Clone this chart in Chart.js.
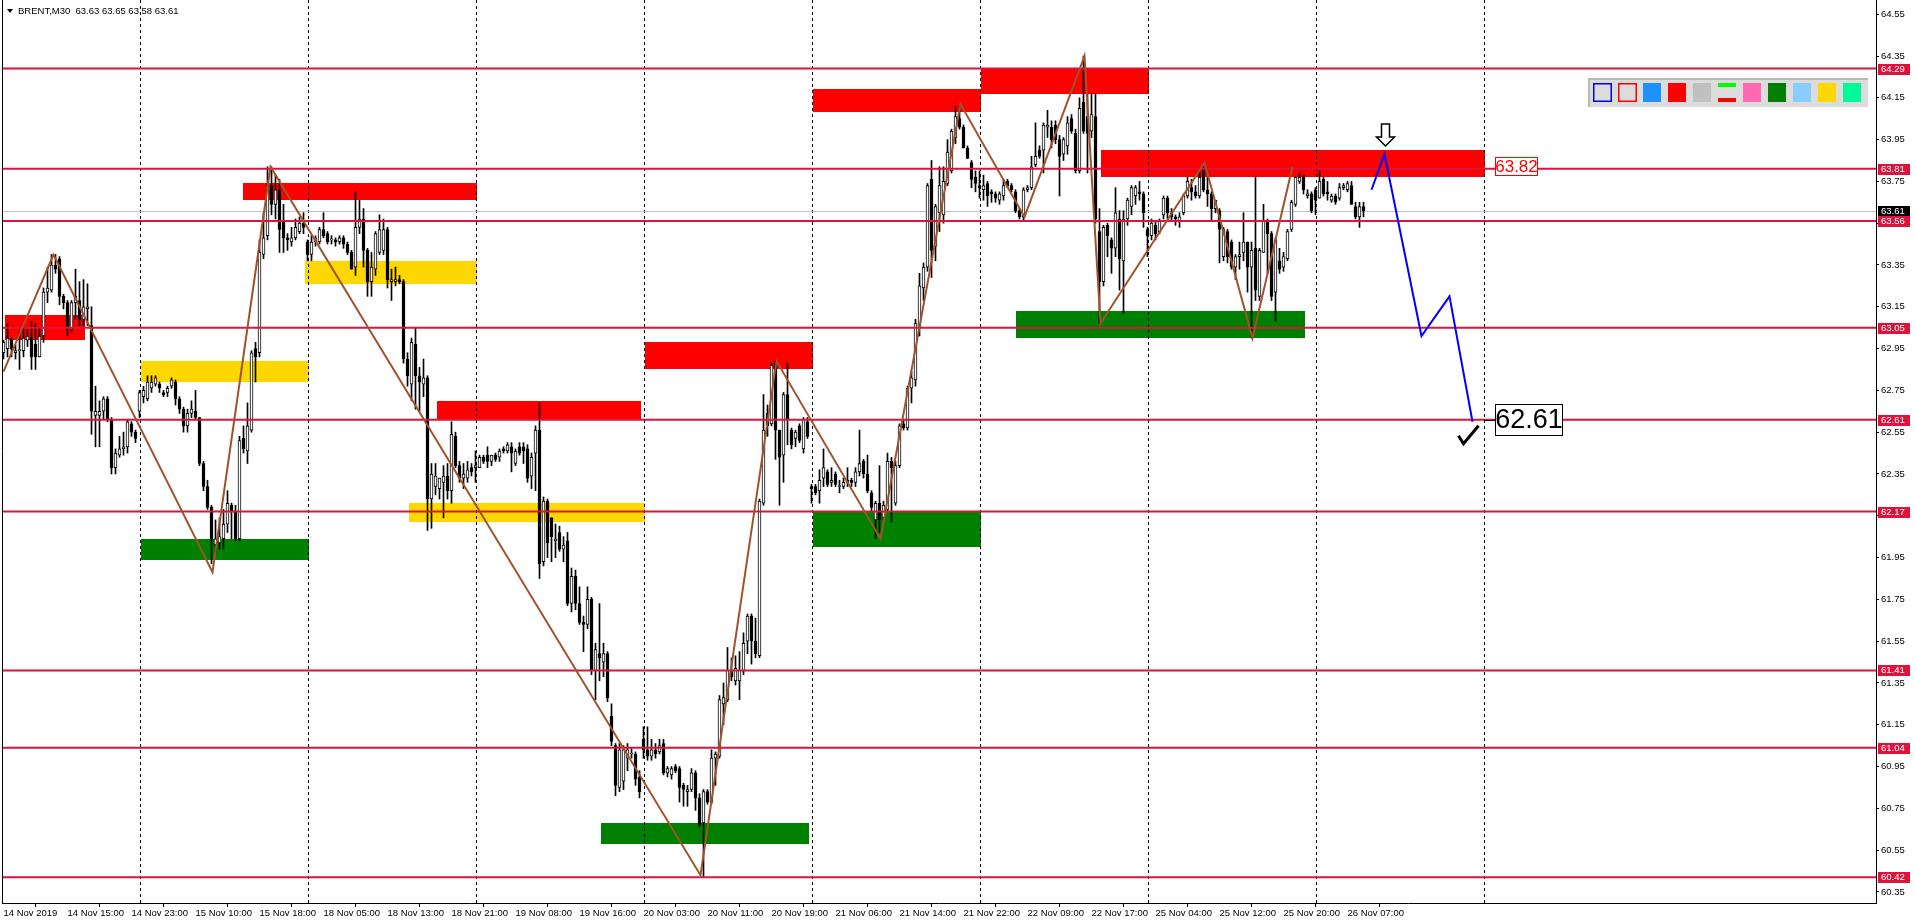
<!DOCTYPE html>
<html>
<head>
<meta charset="utf-8">
<script src="https://cdn.jsdelivr.net/npm/chart.js@4.4.0/dist/chart.umd.min.js"></script>
<style>
html,body{margin:0;padding:0;background:#fff;overflow:hidden}
#wrap{width:1916px;height:923px}
</style>
</head>
<body>
<div id="wrap"><canvas id="brent"></canvas></div>
<script>
// BRENT M30, one value per bar
const opens = [
62.93,62.95,62.99,62.93,62.94,62.94,62.99,63.00,62.97,62.91,
63.01,63.22,63.23,63.35,63.38,63.20,63.17,63.04,63.17,63.18,
63.09,63.14,63.06,62.63,62.63,62.65,62.71,62.61,62.38,62.44,
62.47,62.48,62.59,62.55,62.65,62.72,62.71,62.76,62.78,62.78,
62.74,62.74,62.77,62.79,62.71,62.66,62.58,62.64,62.65,62.62,
62.40,62.29,62.19,62.01,62.02,62.04,62.11,62.20,62.17,62.04,
62.52,62.46,62.56,62.95,62.93,63.40,63.49,63.73,63.64,63.71,
63.56,63.48,63.46,63.48,63.51,63.55,63.46,63.40,63.46,63.46,
63.52,63.50,63.47,63.47,63.46,63.48,63.45,63.41,63.34,63.53,
63.57,63.42,63.27,63.33,63.41,63.42,63.52,63.27,63.27,63.28,
63.27,62.90,62.78,62.97,62.82,62.78,62.81,62.23,62.29,62.28,
62.31,62.34,62.27,62.53,62.39,62.33,62.33,62.38,62.38,62.38,
62.43,62.44,62.41,62.44,62.43,62.47,62.46,62.48,62.40,62.48,
62.48,62.47,62.34,62.45,62.56,61.93,62.22,62.14,62.03,62.07,
61.99,62.03,61.73,61.86,61.73,61.64,61.63,61.75,61.41,61.49,
61.45,61.49,61.19,61.05,60.85,60.88,60.99,61.01,61.01,60.90,
61.08,61.03,61.00,61.03,61.02,61.06,60.92,60.91,60.95,60.94,
60.86,60.83,60.84,60.92,60.80,60.68,60.83,60.78,60.99,61.00,
61.25,61.27,61.41,61.36,61.36,61.41,61.55,61.67,61.55,61.48,
62.21,62.64,62.59,62.88,62.56,62.44,62.73,62.56,62.52,62.58,
62.47,62.60,62.29,62.29,62.27,62.33,62.36,62.31,62.35,62.29,
62.29,62.31,62.32,62.31,62.36,62.41,62.35,62.26,62.13,62.21,
62.14,62.18,62.41,62.21,62.39,62.59,62.57,62.76,62.80,63.05,
63.24,63.34,63.76,63.44,63.60,63.59,63.74,63.80,63.96,64.05,
64.01,63.91,63.84,63.77,63.73,63.71,63.74,63.70,63.69,63.66,
63.68,63.75,63.73,63.70,63.61,63.58,63.71,63.72,63.83,63.90,
63.90,64.01,64.01,64.02,63.95,63.88,63.92,64.05,63.98,63.80,
64.13,64.06,63.99,64.06,63.51,63.27,63.54,63.47,63.43,63.57,
63.37,63.57,63.63,63.68,63.70,63.69,63.52,63.49,63.54,63.51,
63.59,63.67,63.60,63.58,63.56,63.60,63.68,63.72,63.70,63.68,
63.80,63.71,63.69,63.62,63.61,63.39,63.51,63.46,63.34,63.39,
63.41,63.46,63.34,63.43,63.20,63.41,63.56,63.50,63.22,63.37,
63.34,63.38,63.52,63.64,63.75,63.77,63.68,63.69,63.71,63.67,
63.76,63.70,63.66,63.68,63.67,63.72,63.71,63.73,63.63,63.58,63.63];
const highs = [
62.99,63.07,63.00,62.97,63.03,63.05,63.04,63.08,63.07,63.05,
63.24,63.34,63.40,63.40,63.39,63.21,63.18,63.18,63.33,63.27,
63.28,63.26,63.15,62.77,62.70,62.72,62.72,62.62,62.47,62.53,
62.55,62.61,62.60,62.56,62.75,62.77,62.82,62.82,62.82,62.79,
62.75,62.77,62.81,62.80,62.72,62.67,62.66,62.70,62.75,62.62,
62.41,62.32,62.20,62.13,62.14,62.18,62.27,62.21,62.20,62.53,
62.58,62.69,62.94,62.98,63.47,63.60,63.82,63.82,63.78,63.76,
63.64,63.50,63.53,63.57,63.58,63.60,63.47,63.49,63.49,63.53,
63.60,63.51,63.49,63.48,63.49,63.49,63.46,63.42,63.70,63.66,
63.62,63.43,63.41,63.51,63.59,63.57,63.53,63.33,63.34,63.30,
63.28,62.93,63.00,63.05,62.86,62.90,62.82,62.40,62.40,62.33,
62.39,62.40,62.60,62.55,62.41,62.40,62.41,62.40,62.46,62.44,
62.44,62.48,62.44,62.45,62.47,62.48,62.50,62.50,62.47,62.50,
62.50,62.49,62.45,62.58,62.69,62.24,62.23,62.14,62.11,62.10,
62.05,62.07,61.90,61.89,61.81,61.67,61.81,61.76,61.54,61.73,
61.54,61.50,61.25,61.06,61.06,61.05,61.06,61.04,61.02,60.93,
61.14,61.14,61.08,61.06,61.08,61.08,60.95,60.95,60.96,60.95,
60.87,60.86,60.94,60.93,60.82,60.84,60.84,61.03,61.02,61.29,
61.35,61.52,61.47,61.48,61.50,61.59,61.68,61.68,61.66,62.23,
62.73,62.68,62.88,62.89,62.56,62.74,62.88,62.57,62.56,62.59,
62.62,62.62,62.30,62.30,62.37,62.47,62.37,62.38,62.36,62.32,
62.33,62.38,62.33,62.38,62.56,62.42,62.44,62.27,62.22,62.39,
62.22,62.45,62.43,62.41,62.59,62.61,62.77,62.84,63.09,63.31,
63.36,63.74,63.85,63.64,63.82,63.82,63.95,64.00,64.11,64.11,
64.02,63.92,63.85,63.80,63.80,63.78,63.75,63.71,63.70,63.70,
63.76,63.76,63.74,63.71,63.62,63.72,63.73,63.87,64.03,63.92,
64.03,64.09,64.04,64.04,63.97,63.96,64.06,64.07,64.00,64.15,
64.35,64.17,64.17,64.17,63.62,63.54,63.55,63.48,63.72,63.61,
63.61,63.67,63.73,63.73,63.75,63.70,63.53,63.57,63.56,63.57,
63.68,63.68,63.62,63.59,63.60,63.69,63.77,63.76,63.73,63.80,
63.82,63.77,63.70,63.66,63.62,63.53,63.52,63.47,63.40,63.46,
63.60,63.46,63.46,63.77,63.43,63.64,63.57,63.51,63.48,63.43,
63.41,63.52,63.66,63.77,63.79,63.78,63.71,63.70,63.72,63.80,
63.77,63.75,63.69,63.69,63.74,63.74,63.75,63.75,63.65,63.65,63.65];
const lows = [
62.90,62.91,62.91,62.90,62.85,62.91,62.96,62.85,62.85,62.91,
62.98,63.17,63.22,63.31,63.16,63.14,63.01,63.03,63.09,63.06,
63.06,63.06,62.54,62.48,62.48,62.61,62.60,62.35,62.35,62.43,
62.44,62.45,62.53,62.50,62.62,62.69,62.70,62.74,62.77,62.74,
62.72,62.72,62.76,62.68,62.64,62.55,62.55,62.62,62.61,62.39,
62.27,62.18,61.92,61.97,61.99,61.99,62.07,62.04,62.03,62.03,
62.45,62.40,62.55,62.79,62.91,63.38,63.47,63.59,63.57,63.41,
63.41,63.42,63.44,63.47,63.50,63.50,63.37,63.37,63.44,63.45,
63.48,63.45,63.45,63.44,63.45,63.43,63.40,63.33,63.30,63.50,
63.34,63.20,63.20,63.30,63.40,63.40,63.24,63.18,63.25,63.26,
62.88,62.77,62.70,62.66,62.65,62.72,62.08,62.09,62.25,62.23,
62.14,62.23,62.21,62.38,62.31,62.28,62.31,62.34,62.31,62.38,
62.40,62.38,62.39,62.41,62.41,62.45,62.45,62.36,62.39,62.44,
62.40,62.31,62.28,62.27,61.85,61.91,61.95,61.93,61.95,61.98,
61.93,61.72,61.69,61.70,61.63,61.50,61.61,61.39,61.27,61.36,
61.38,61.26,61.05,60.81,60.83,60.84,60.93,60.99,60.86,60.80,
60.99,60.98,60.98,60.99,61.01,60.91,60.90,60.89,60.92,60.78,
60.76,60.76,60.83,60.74,60.66,60.42,60.77,60.77,60.86,60.99,
61.15,61.26,61.36,61.34,61.27,61.39,61.49,61.44,61.47,61.47,
62.20,62.53,62.58,62.42,62.20,62.31,62.49,62.47,62.48,62.50,
62.45,62.52,62.21,62.25,62.21,62.29,62.29,62.29,62.29,62.26,
62.28,62.29,62.29,62.29,62.34,62.33,62.26,62.17,62.04,62.07,
62.13,62.17,62.12,62.20,62.38,62.56,62.56,62.69,62.77,63.01,
63.18,63.32,63.29,63.37,63.51,63.55,63.73,63.79,63.93,64.00,
63.91,63.86,63.72,63.70,63.67,63.66,63.63,63.65,63.65,63.64,
63.66,63.72,63.70,63.60,63.57,63.56,63.70,63.71,63.82,63.86,
63.79,63.96,63.91,63.93,63.68,63.85,63.88,63.98,63.79,63.79,
63.98,63.79,63.96,63.55,63.07,63.25,63.39,63.31,63.39,63.23,
63.12,63.54,63.59,63.64,63.66,63.53,63.39,63.47,63.47,63.50,
63.57,63.57,63.56,63.54,63.53,63.59,63.67,63.66,63.67,63.67,
63.70,63.63,63.56,63.60,63.36,63.37,63.36,63.33,63.28,63.33,
63.37,63.22,63.00,63.18,63.18,63.41,63.31,63.18,63.08,63.31,
63.32,63.37,63.51,63.63,63.74,63.69,63.67,63.60,63.59,63.67,
63.68,63.66,63.65,63.64,63.66,63.71,63.70,63.64,63.57,63.53,63.58];
const closes = [
62.98,63.00,62.95,62.94,62.94,63.00,63.01,62.91,62.91,63.01,
63.22,63.24,63.35,63.33,63.20,63.17,63.06,63.17,63.20,63.09,
63.15,63.15,62.65,62.65,62.65,62.71,62.61,62.38,62.45,62.47,
62.48,62.60,62.55,62.52,62.74,62.75,62.79,62.79,62.81,62.76,
62.73,62.76,62.80,62.71,62.66,62.58,62.64,62.66,62.62,62.40,
62.29,62.19,62.04,62.04,62.05,62.11,62.21,62.17,62.04,62.51,
62.47,62.58,62.93,62.91,63.41,63.48,63.73,63.64,63.71,63.52,
63.48,63.47,63.48,63.53,63.55,63.53,63.40,63.46,63.48,63.52,
63.49,63.46,63.47,63.46,63.48,63.45,63.41,63.33,63.53,63.57,
63.42,63.27,63.34,63.50,63.52,63.52,63.28,63.28,63.28,63.27,
62.90,62.82,62.98,62.82,62.79,62.81,62.23,62.35,62.34,62.33,
62.34,62.27,62.54,62.39,62.33,62.35,62.37,62.36,62.39,62.43,
62.41,62.41,62.44,62.42,62.46,62.46,62.49,62.45,62.46,62.45,
62.46,62.33,62.43,62.56,61.92,62.22,62.02,62.05,62.04,61.99,
62.01,61.73,61.86,61.73,61.64,61.63,61.75,61.41,61.51,61.47,
61.49,61.28,61.07,60.86,61.03,61.03,61.03,61.01,60.89,60.83,
61.03,61.00,61.03,61.01,61.05,60.92,60.94,60.94,60.93,60.85,
60.84,60.84,60.92,60.80,60.67,60.83,60.78,60.99,61.01,61.27,
61.28,61.41,61.38,61.42,61.41,61.54,61.67,61.55,61.49,62.22,
62.56,62.58,62.87,62.56,62.43,62.73,62.61,62.49,62.55,62.51,
62.61,62.53,62.28,62.26,62.32,62.38,62.30,62.32,62.30,62.29,
62.31,62.32,62.31,62.36,62.40,62.35,62.27,62.19,62.21,62.13,
62.20,62.41,62.38,62.39,62.58,62.57,62.76,62.81,63.07,63.25,
63.34,63.73,63.42,63.63,63.73,63.75,63.89,63.99,64.06,64.01,
63.91,63.86,63.76,63.74,63.72,63.73,63.68,63.69,63.67,63.69,
63.73,63.73,63.71,63.61,63.58,63.71,63.72,63.82,63.87,63.87,
64.02,64.02,63.95,63.95,63.87,63.95,64.03,63.99,63.80,64.10,
63.99,63.98,64.07,63.57,63.27,63.53,63.49,63.43,63.60,63.38,
63.57,63.66,63.72,63.72,63.69,63.60,63.49,63.55,63.50,63.56,
63.67,63.60,63.58,63.57,63.58,63.68,63.75,63.70,63.68,63.77,
63.71,63.69,63.62,63.66,63.52,63.52,63.39,63.34,63.39,63.40,
63.46,63.34,63.42,63.23,63.42,63.56,63.50,63.20,63.47,63.33,
63.39,63.51,63.65,63.77,63.77,63.71,63.69,63.61,63.66,63.75,
63.69,63.69,63.68,63.65,63.72,63.73,63.74,63.64,63.58,63.63,63.61];

const timeLabels = ['14 Nov 2019','14 Nov 15:00','14 Nov 23:00','15 Nov 10:00','15 Nov 18:00','18 Nov 05:00',
  '18 Nov 13:00','18 Nov 21:00','19 Nov 08:00','19 Nov 16:00','20 Nov 03:00','20 Nov 11:00','20 Nov 19:00',
  '21 Nov 06:00','21 Nov 14:00','21 Nov 22:00','22 Nov 09:00','22 Nov 17:00','25 Nov 04:00','25 Nov 12:00',
  '25 Nov 20:00','26 Nov 07:00'];
const labelStep = 16;
const gridBars = [34, 76, 118, 160, 202, 244, 286, 328, 370];
const priceTicks = [64.55,64.35,64.15,63.95,63.75,63.55,63.35,63.15,62.95,62.75,62.55,62.35,62.15,61.95,61.75,61.55,61.35,61.15,60.95,60.75,60.55,60.35];
const levelPrices = [64.29, 63.81, 63.56, 63.05, 62.61, 62.17, 61.41, 61.04, 60.42];
const bidPrice = 63.61;

// zones: bar range and price range
const zoneFrom = [0.25, 34.25, 34.25, 59.75, 75.25, 101.25, 108.25, 160.25, 149.25, 202.25, 202.25, 244.25, 274.25, 253.25];
const zoneTo   = [20.25, 76.25, 76.25, 118.25, 118.25, 160.25, 159.25, 202.25, 201.25, 244.25, 244.25, 286.25, 370.25, 325.25];
const zoneHigh = [63.11, 62.89, 62.04, 63.74, 63.37, 62.21, 62.70, 62.98, 60.68, 64.19, 62.17, 64.29, 63.90, 63.13];
const zoneLow  = [62.99, 62.79, 61.94, 63.66, 63.26, 62.12, 62.61, 62.85, 60.58, 64.08, 62.00, 64.17, 63.77, 63.00];
const zoneKind = ['sell','mid','buy','sell','mid','mid','sell','sell','buy','sell','buy','sell','sell','buy'];

const zigzagBars   = [0, 12.5, 52.25, 66.75, 174.25, 193.25, 219.25, 239.25, 255.25, 270.25, 274.25, 300.25, 312.25, 322.25];
const zigzagPrices = [62.84, 63.40, 61.88, 63.82, 60.43, 62.89, 62.04, 64.12, 63.58, 64.35, 63.07, 63.84, 63.00, 63.82];
const projBars   = [342, 345.25, 354.5, 361.5, 367.25];
const projPrices = [63.71, 63.88, 63.01, 63.20, 62.60];
const entryPrice = 63.82;
const targetPrice = 62.61;

const X_MIN = -0.375, X_MAX = 468.125;
const Y_MIN = 60.297, Y_MAX = 64.618;
const smallFont = '9.5px "Liberation Sans", Arial, sans-serif';
const zoneColors = {sell: '#FF0000', mid: '#FFD700', buy: '#008000'};

const idx = closes.map((c, i) => i);

const overlay = {
  id: 'overlay',
  beforeDatasetsDraw(chart) {
    const {ctx, chartArea: a, scales: {x, y}} = chart;
    ctx.save();
    ctx.beginPath();
    ctx.rect(a.left, a.top, a.right - a.left, a.bottom - a.top);
    ctx.clip();
    zoneFrom.forEach((f, k) => {
      const x1 = Math.round(x.getPixelForValue(f)), x2 = Math.round(x.getPixelForValue(zoneTo[k]));
      const y1 = Math.round(y.getPixelForValue(zoneHigh[k])), y2 = Math.round(y.getPixelForValue(zoneLow[k]));
      ctx.fillStyle = zoneColors[zoneKind[k]];
      ctx.fillRect(x1, y1, x2 - x1, y2 - y1);
    });
    ctx.strokeStyle = '#000';
    ctx.lineWidth = 1;
    ctx.setLineDash([3, 3]);
    gridBars.forEach(b => {
      const px = Math.round(x.getPixelForValue(b)) + 0.5;
      ctx.beginPath(); ctx.moveTo(px, a.top); ctx.lineTo(px, a.bottom); ctx.stroke();
    });
    ctx.setLineDash([]);
    const by = Math.round(y.getPixelForValue(bidPrice)) + 0.5;
    ctx.strokeStyle = '#C0C0C0';
    ctx.beginPath(); ctx.moveTo(a.left, by); ctx.lineTo(a.right, by); ctx.stroke();
    ctx.restore();
  },
  afterDraw(chart) {
    const {ctx, chartArea: a, scales: {x, y}} = chart;
    ctx.save();
    // left frame
    ctx.strokeStyle = '#000';
    ctx.beginPath(); ctx.moveTo(a.left + 0.5, 0); ctx.lineTo(a.left + 0.5, a.bottom); ctx.stroke();

    // price tags on the right axis
    const tag = (p, fill) => {
      const py = Math.round(y.getPixelForValue(p));
      ctx.fillStyle = fill;
      ctx.fillRect(a.right + 2, py - 5, 32, 11);
      ctx.fillStyle = '#fff';
      ctx.font = smallFont;
      ctx.textBaseline = 'middle';
      ctx.textAlign = 'left';
      ctx.fillText(p.toFixed(2), a.right + 5, py + 0.5);
    };
    tag(bidPrice, '#000');
    levelPrices.forEach(p => tag(p, '#DC143C'));

    // down arrow above the projected top
    const last = projBars.length - 1;
    const tx = Math.round(x.getPixelForValue(projBars[1])) + 0.5;
    const ty = Math.round(y.getPixelForValue(projPrices[1]));
    ctx.beginPath();
    ctx.moveTo(tx - 4, ty - 30); ctx.lineTo(tx + 4, ty - 30); ctx.lineTo(tx + 4, ty - 17);
    ctx.lineTo(tx + 9, ty - 17); ctx.lineTo(tx, ty - 8); ctx.lineTo(tx - 9, ty - 17);
    ctx.lineTo(tx - 4, ty - 17); ctx.closePath();
    ctx.fillStyle = '#fff'; ctx.fill();
    ctx.strokeStyle = '#000'; ctx.lineWidth = 1.5; ctx.stroke();

    // check mark under the target
    const ex = x.getPixelForValue(projBars[last]);
    const ey = y.getPixelForValue(projPrices[last]);
    ctx.beginPath();
    ctx.moveTo(ex - 14, ey + 14); ctx.lineTo(ex - 9, ey + 22); ctx.lineTo(ex + 6, ey + 4);
    ctx.strokeStyle = '#000'; ctx.lineWidth = 3; ctx.lineJoin = 'miter'; ctx.stroke();

    // target box
    const bx = Math.round(x.getPixelForValue(gridBars[gridBars.length - 1])) + 11;
    const gy = Math.round(y.getPixelForValue(targetPrice));
    ctx.lineWidth = 1;
    ctx.beginPath(); ctx.moveTo(bx - 11, gy + 0.5); ctx.lineTo(bx, gy + 0.5); ctx.stroke();
    ctx.fillStyle = '#fff';
    ctx.fillRect(bx, gy - 16, 68, 32);
    ctx.strokeRect(bx + 0.5, gy - 15.5, 67, 31);
    ctx.fillStyle = '#000';
    ctx.font = '27px "Liberation Sans", Arial, sans-serif';
    ctx.textAlign = 'center'; ctx.textBaseline = 'middle';
    ctx.fillText(targetPrice.toFixed(2), bx + 34, gy + 1);

    // entry box
    const ny = Math.round(y.getPixelForValue(entryPrice));
    ctx.fillStyle = '#fff';
    ctx.fillRect(bx, ny - 10, 43, 19);
    ctx.strokeStyle = '#FF0000';
    ctx.strokeRect(bx + 0.5, ny - 9.5, 42, 18);
    ctx.fillStyle = '#FF0000';
    ctx.font = '17px "Liberation Sans", Arial, sans-serif';
    ctx.fillText(entryPrice.toFixed(2), bx + 21.5, ny + 0.5);

    // object palette
    const px0 = a.right - 288, py0 = 78;
    ctx.fillStyle = '#DCDCDC'; ctx.fillRect(px0, py0, 280, 29);
    ctx.fillStyle = '#B8B8B8'; ctx.fillRect(px0, py0, 280, 2); ctx.fillRect(px0, py0, 2, 29);
    const cells = ['#0000FF', '#FF0000', '#1E90FF', '#FF0000', '#C0C0C0', 'lines', '#FF69B4', '#008000', '#87CEFA', '#FFD700', '#00FA9A'];
    cells.forEach((c, k) => {
      const cx = px0 + 5 + k * 25, cy = py0 + 5;
      if (k < 2) {
        ctx.strokeStyle = c; ctx.lineWidth = 1.5;
        ctx.strokeRect(cx + 0.75, cy + 0.75, 17.5, 17.5);
      } else if (c === 'lines') {
        ctx.fillStyle = '#00FF00'; ctx.fillRect(cx, cy, 18, 4);
        ctx.fillStyle = '#FF0000'; ctx.fillRect(cx, cy + 15, 18, 4);
      } else {
        ctx.fillStyle = c; ctx.fillRect(cx, cy, 18, 19);
      }
    });

    // title
    ctx.fillStyle = '#000';
    ctx.beginPath(); ctx.moveTo(7, 9); ctx.lineTo(13, 9); ctx.lineTo(10, 13); ctx.closePath(); ctx.fill();
    const n = closes.length - 1;
    ctx.font = smallFont; ctx.textAlign = 'left'; ctx.textBaseline = 'middle';
    ctx.fillText('BRENT,M30  ' + [opens[n], highs[n], lows[n], closes[n]].map(v => v.toFixed(2)).join(' '), 18, 11);
    ctx.restore();
  }
};

new Chart('brent', {
  type: 'bar',
  data: {
    datasets: [
      {
        type: 'line', label: 'projection', order: 0,
        data: projBars.map((b, k) => ({x: b, y: projPrices[k]})),
        borderColor: '#0000FF', borderWidth: 2, pointRadius: 0, tension: 0
      },
      {
        type: 'line', label: 'zigzag', order: 1,
        data: zigzagBars.map((b, k) => ({x: b, y: zigzagPrices[k]})),
        borderColor: '#A0522D', borderWidth: 2, pointRadius: 0, tension: 0
      },
      ...levelPrices.map(p => ({
        type: 'line', label: 'level ' + p, order: 2,
        data: [{x: X_MIN, y: p}, {x: X_MAX, y: p}],
        borderColor: '#DC143C', borderWidth: 2, pointRadius: 0
      })),
      {
        label: 'body', order: 4, grouped: false,
        data: idx.map(i => ({x: i, y: [Math.min(opens[i], closes[i]), Math.max(opens[i], closes[i])]})),
        backgroundColor: idx.map(i => closes[i] >= opens[i] ? '#FFFFFF' : '#000000'),
        borderColor: '#000', borderWidth: 1, borderSkipped: false,
        barThickness: 3, minBarLength: 1
      },
      {
        label: 'wick', order: 5, grouped: false,
        data: idx.map(i => ({x: i, y: [lows[i], highs[i]]})),
        backgroundColor: '#000', barThickness: 1, minBarLength: 1
      }
    ]
  },
  options: {
    responsive: true,
    maintainAspectRatio: false,
    animation: false,
    events: [],
    layout: {padding: {left: 2, top: 0, right: 0, bottom: 0}},
    plugins: {legend: {display: false}, tooltip: {enabled: false}},
    scales: {
      x: {
        type: 'linear', min: X_MIN, max: X_MAX, offset: false,
        afterBuildTicks: s => { s.ticks = timeLabels.map((t, k) => ({value: k * labelStep})); },
        afterFit: s => { s.height = 20; s.paddingLeft = 0; s.paddingRight = 0; },
        ticks: {
          autoSkip: false, maxRotation: 0, align: 'start', padding: 1, color: '#000',
          font: {family: '"Liberation Sans", Arial, sans-serif', size: 9.5},
          callback: v => timeLabels[Math.round(v / labelStep)]
        },
        grid: {drawOnChartArea: false, tickLength: 4, color: '#000'},
        border: {color: '#000', width: 1}
      },
      y: {
        position: 'right', min: Y_MIN, max: Y_MAX, beginAtZero: false,
        afterBuildTicks: s => { s.ticks = priceTicks.map(v => ({value: v})); },
        afterFit: s => { s.width = 40; s.paddingTop = 0; s.paddingBottom = 0; },
        ticks: {
          autoSkip: false, padding: 2, color: '#000',
          font: {family: '"Liberation Sans", Arial, sans-serif', size: 9.5},
          callback: v => v.toFixed(2)
        },
        grid: {drawOnChartArea: false, tickLength: 3, color: '#000'},
        border: {color: '#000', width: 1}
      }
    }
  },
  plugins: [overlay]
});
</script>
</body>
</html>
